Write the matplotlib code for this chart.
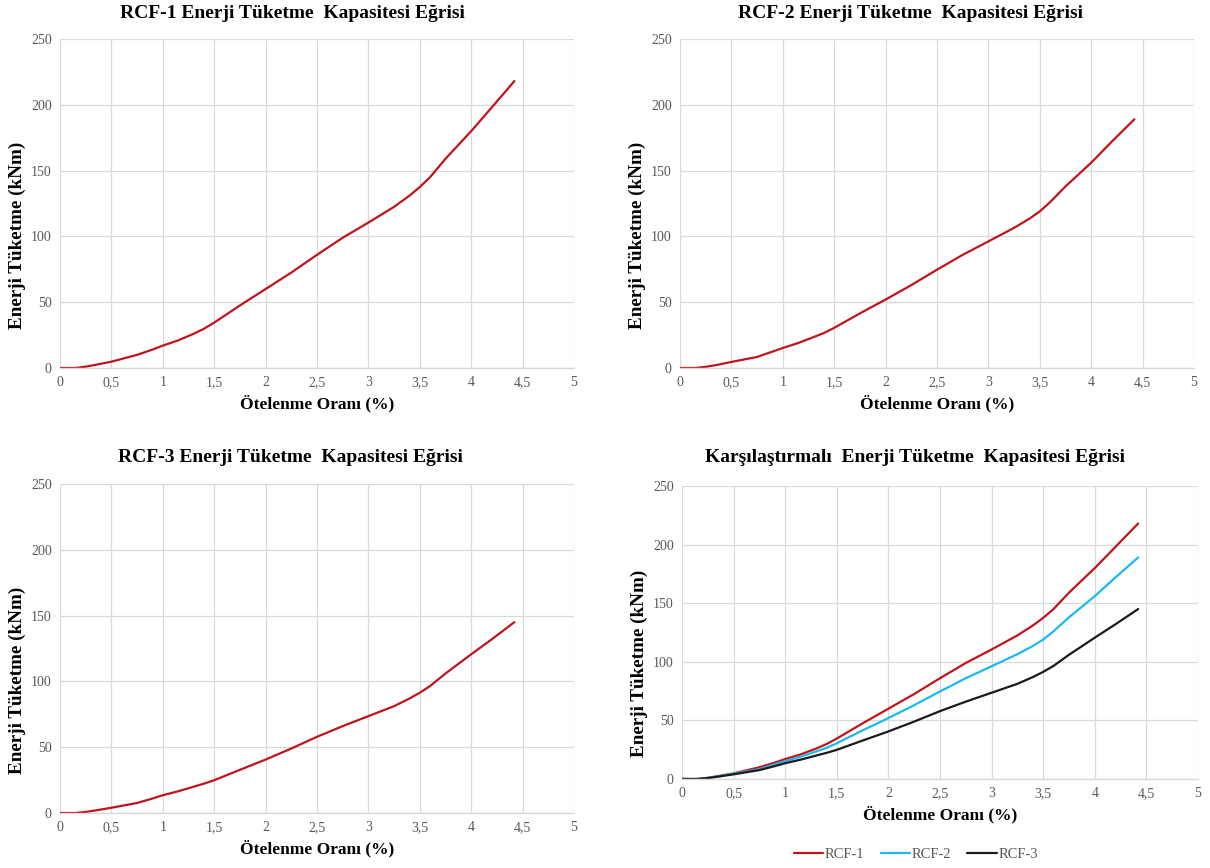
import matplotlib
matplotlib.use("Agg")
import matplotlib.pyplot as plt

drift = [0, 0.15, 0.25, 0.35, 0.5, 0.75, 0.9, 1.0, 1.15, 1.3, 1.4, 1.5, 1.75, 2.0, 2.25, 2.5,
         2.75, 3.0, 3.25, 3.4, 3.5, 3.6, 3.75, 4.0, 4.2, 4.42]
rcf1 = [0, 0, 1.0, 2.5, 4.8, 10, 14, 17, 21, 26, 29.8, 34.5, 47.5, 60, 72.5, 86,
        99, 110.5, 122.5, 131, 137.5, 145, 159, 180, 198, 218]
rcf2 = [0, 0, 0.9, 2.2, 4.6, 8.4, 12.5, 15.2, 19, 23.5, 26.6, 30.5, 41.5, 52, 63, 74.7,
        86, 96.2, 106.5, 113.5, 119, 126, 138, 156, 172, 189]
rcf3 = [0, 0, 0.8, 2.0, 4.0, 7.6, 11, 13.5, 16.5, 20, 22.3, 24.9, 32.8, 40.6, 49, 57.9,
        66, 73.6, 81.2, 87, 91.4, 96.5, 106, 120.6, 132, 145]

names = ["RCF-1", "RCF-2", "RCF-3"]
colors = ["#C0141B", "#1CB8F2", "#1A1A1A"]
titles = ["RCF-1 Enerji Tüketme  Kapasitesi Eğrisi",
          "RCF-2 Enerji Tüketme  Kapasitesi Eğrisi",
          "RCF-3 Enerji Tüketme  Kapasitesi Eğrisi",
          "Karşılaştırmalı  Enerji Tüketme  Kapasitesi Eğrisi"]
xticks = [0, 0.5, 1, 1.5, 2, 2.5, 3, 3.5, 4, 4.5, 5]
xticklabels = ["0", "0,5", "1", "1,5", "2", "2,5", "3", "3,5", "4", "4,5", "5"]
yticks = [0, 50, 100, 150, 200, 250]
xlabel = "Ötelenme Oranı (%)"
ylabel = "Enerji Tüketme (kNm)"

plt.rcParams['font.family'] = ['Liberation Serif', 'DejaVu Serif']

W, H = 1210, 868
fig = plt.figure(figsize=(W / 100, H / 100), dpi=100)


def make_ax(left, top, right, bottom):
    return fig.add_axes([left / W, 1 - bottom / H, (right - left) / W, (bottom - top) / H])


boxes = [(60, 39, 574, 368), (680, 39, 1194, 368), (60, 484, 574, 813), (682, 486, 1198, 779)]
# (title center x px, title center y px, ylabel right edge px, ylabel center y px, xlabel center y px)
label_pos = [(292, 13, 26, 235, 404), (910, 13, 646, 235, 404),
             (290, 457, 26, 680, 849), (915, 458, 648, 663, 815)]
axes = [make_ax(*b) for b in boxes]

grid_c = "#D9D9D9"
tick_c = "#595959"

for i, ax in enumerate(axes):
    l, t, r, b = boxes[i]
    tx, ty, yx, yy, xy = label_pos[i]
    ax.set_xlim(0, 5)
    ax.set_ylim(0, 250)
    ax.set_xticks(xticks)
    ax.set_xticklabels(xticklabels)
    ax.set_yticks(yticks)
    ax.grid(True, color=grid_c, linewidth=0.9)
    ax.set_axisbelow(True)
    for s in ["top", "right", "left"]:
        ax.spines[s].set_visible(False)
    ax.spines["bottom"].set_color(grid_c)
    ax.spines["bottom"].set_linewidth(1.0)
    ax.tick_params(axis="both", length=0, labelsize=10, labelcolor=tick_c, pad=6)
    ax.set_xlabel(xlabel, fontsize=12.5, fontweight="bold", va="center")
    ax.xaxis.set_label_coords(((l + r) / 2 - l) / (r - l), (b - xy) / (b - t))
    ax.set_ylabel(ylabel, fontsize=13.8, fontweight="bold")
    ax.yaxis.set_label_coords((yx - l) / (r - l), (b - yy) / (b - t))
    ax.text((tx - l) / (r - l), (b - ty) / (b - t), titles[i], transform=ax.transAxes,
            ha="center", va="center", fontsize=14, fontweight="bold")

series = [rcf1, rcf2, rcf3]
for i in range(3):
    axes[i].plot(drift, series[i], color=colors[0], linewidth=1.6, solid_capstyle="round",
                 solid_joinstyle="round")

for i in range(3):
    axes[3].plot(drift, series[i], color=colors[i], linewidth=1.6, label=names[i],
                 solid_capstyle="round", solid_joinstyle="round")

l, t, r, b = boxes[3]
axes[3].legend(loc="center", bbox_to_anchor=((916 - l) / (r - l), (b - 854) / (b - t)), ncol=3,
               frameon=False, fontsize=10.5, labelcolor=tick_c, handlelength=2.0,
               handletextpad=0.15, columnspacing=1.1)

fig.savefig("out.png", dpi=100, facecolor="white")
